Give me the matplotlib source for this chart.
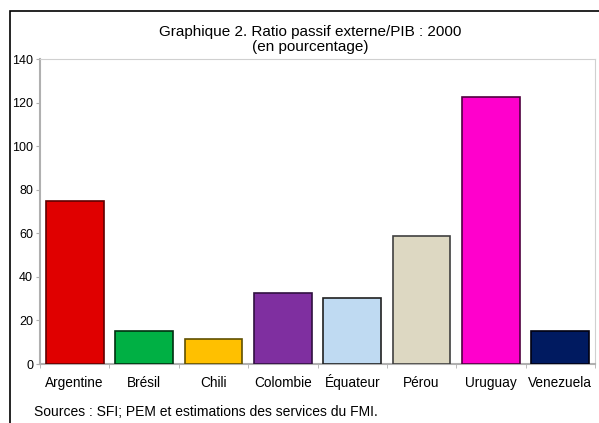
import matplotlib
matplotlib.use("Agg")
import matplotlib.pyplot as plt
from matplotlib.patches import Rectangle
import numpy as np

plt.rcParams['font.family'] = ['Liberation Sans', 'DejaVu Sans']

categories = ["Argentine", "Brésil", "Chili", "Colombie", "Équateur", "Pérou", "Uruguay", "Venezuela"]
values = [75.0, 15.1, 11.3, 32.4, 30.4, 58.7, 122.4, 15.1]
colors = ["#E00000", "#00B044", "#FFC000", "#7F2FA0", "#BFDAF2", "#DDD8C2", "#FF00CC", "#001A60"]
edgecolors = ["#600000", "#003010", "#605000", "#301040", "#202020", "#404040", "#500040", "#000010"]
yticks = [0, 20, 40, 60, 80, 100, 120, 140]

W, H = 599, 423
fig = plt.figure(figsize=(W / 100, H / 100), dpi=100)

# plot area in pixels: left 40, right 595, top 59, bottom 364
l, r, t, b = 40, 595, 59, 364
ax = fig.add_axes([l / W, 1 - b / H, (r - l) / W, (b - t) / H])

x = np.arange(len(categories))
ax.bar(x, values, width=0.833, color=colors, edgecolor=edgecolors, linewidth=1.2, zorder=3)
ax.set_xlim(-0.5, len(categories) - 0.5)
ax.set_ylim(0, 140)
ax.set_yticks(yticks)
ax.set_yticklabels([str(v) for v in yticks], fontsize=9)
ax.set_xticks(x)
ax.set_xticklabels(categories, fontsize=9.8, va='baseline')
ax.tick_params(axis='x', length=0, pad=16.5)
ax.set_xticks(np.arange(-0.5, len(categories) + 0.5, 1), minor=True)
ax.tick_params(axis='x', which='minor', length=3, color='#b0b0b0', direction='out')
ax.tick_params(axis='y', length=3, color='#b0b0b0', direction='out', pad=2)

for side in ['top', 'right']:
    ax.spines[side].set_color('#d0d0d0')
    ax.spines[side].set_linewidth(0.8)
for side in ['left', 'bottom']:
    ax.spines[side].set_color('#b0b0b0')
    ax.spines[side].set_linewidth(1.5)

fig.text(310 / W, 1 - 32 / H, "Graphique 2. Ratio passif externe/PIB : 2000",
         ha='center', va='center', fontsize=11)
fig.text(310 / W, 1 - 47 / H, "(en pourcentage)", ha='center', va='center', fontsize=11)
fig.text(34 / W, 1 - 412 / H, "Sources : SFI; PEM et estimations des services du FMI.",
         ha='left', va='center', fontsize=10)

# outer frame
fig.patches.append(Rectangle((10 / W, -0.1), 1.2, 1 - 11 / H + 0.1, transform=fig.transFigure,
                             fill=False, edgecolor='black', linewidth=1.2))

fig.savefig("out.png", dpi=100)
